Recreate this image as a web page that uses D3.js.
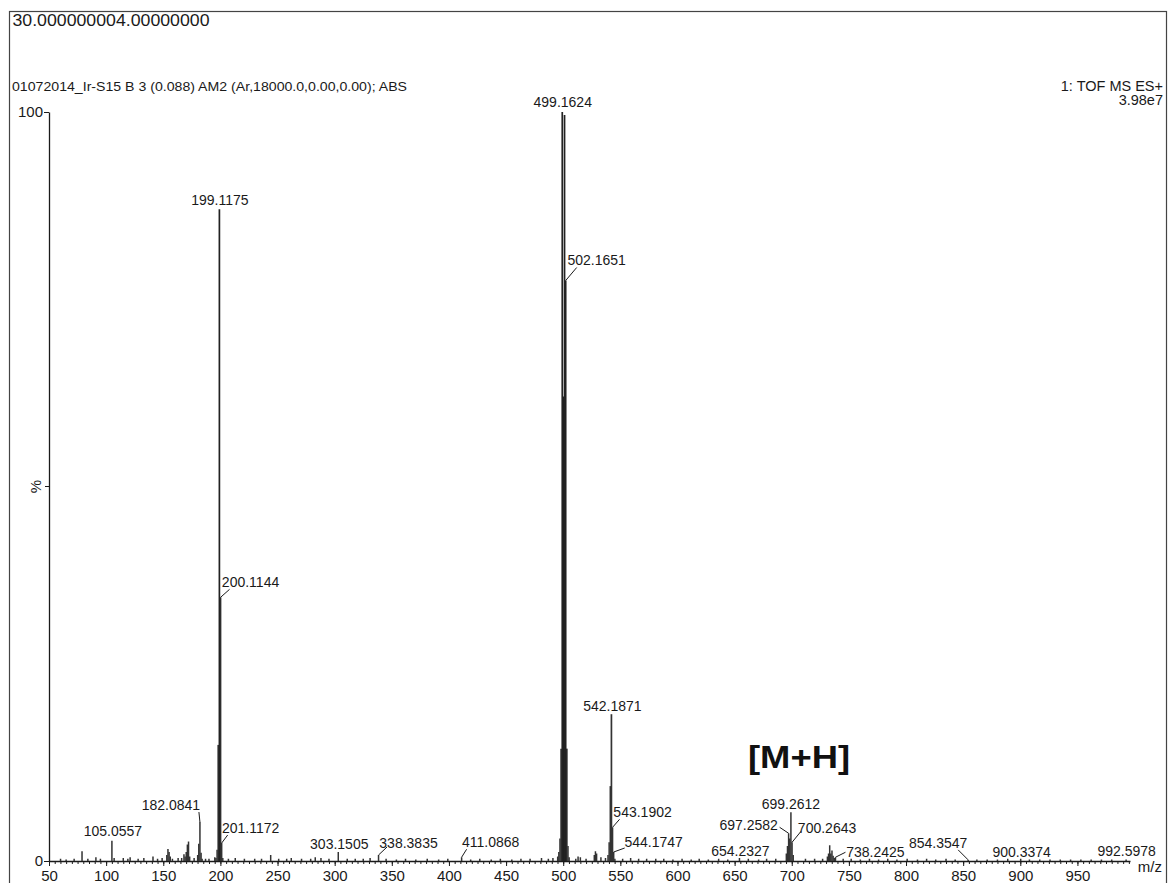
<!DOCTYPE html>
<html>
<head>
<meta charset="utf-8">
<script src="https://cdn.jsdelivr.net/npm/d3@7"></script>
<style>
  html, body { margin: 0; padding: 0; background: #fff; }
  svg { display: block; font-family: "Liberation Sans", Arial, Helvetica, sans-serif; }
</style>
</head>
<body>
<svg id="chart" width="1168" height="883"></svg>
<script>
// ---- Spectrum data -------------------------------------------------------
const headerTitle = "30.000000004.00000000";
const runInfo = "01072014_Ir-S15 B 3 (0.088) AM2 (Ar,18000.0,0.00,0.00); ABS";
const scanInfo = ["1: TOF MS ES+", "3.98e7"];
const annotation = "[M+H]";
const xAxisTitle = "m/z";
const yAxisTitle = "%";

// axis ticks
const xTickValues = [50, 100, 150, 200, 250, 300, 350, 400, 450, 500, 550, 600, 650, 700, 750, 800, 850, 900, 950];
const yTickValues = [0, 100];

// labelled centroids: m/z and relative intensity (%)
const labelledMz  = [105.0557, 182.0841, 199.1175, 200.1144, 201.1172, 303.1505, 338.3835, 411.0868,
                     499.1624, 502.1651, 542.1871, 543.1902, 544.1747, 654.2327, 697.2582, 699.2612,
                     700.2643, 738.2425, 854.3547, 900.3374, 992.5978];
const labelledPct = [2.7, 5.2, 87.0, 35.2, 2.4, 1.2, 0.8, 0.5,
                     100, 77.5, 19.6, 4.5, 1.2, 0.4, 3.7, 6.5,
                     2.5, 0.5, 0.15, 0.3, 0.2];

// unlabelled signals (m/z, %)
const otherPeaks = [
  [60.1, 0.3], [65.0, 0.2], [72.0, 0.3], [78.9, 1.3], [84.0, 0.3], [91.05, 0.5], [95.0, 0.3],
  [107.0, 0.4], [115.0, 0.4], [119.0, 0.3], [121.0, 0.5], [128.0, 0.3], [133.0, 0.4], [141.0, 0.6],
  [145.0, 0.3], [149.0, 0.4], [153.1, 0.8], [154.1, 1.6], [155.1, 1.2], [156.1, 0.6], [158.0, 0.3],
  [163.0, 0.4], [166.1, 0.4], [168.1, 0.9], [169.1, 0.6], [170.1, 1.2], [171.1, 2.2], [172.1, 2.6],
  [173.1, 0.6], [177.0, 0.4], [180.1, 0.8], [181.08, 2.3], [183.09, 1.1], [184.0, 0.3], [187.0, 0.3],
  [190.0, 0.3], [195.1, 0.5], [196.1, 0.4], [197.1, 1.5], [198.1, 15.5], [202.1, 0.4],
  [207.0, 0.3], [213.0, 0.4], [221.0, 0.3], [230.0, 0.3], [236.0, 0.3], [244.0, 0.8], [251.0, 0.3],
  [258.0, 0.3], [262.0, 0.4], [271.0, 0.3], [279.0, 0.3], [283.0, 0.5], [288.0, 0.4], [295.0, 0.3],
  [311.0, 0.3], [318.0, 0.3], [325.0, 0.3], [331.0, 0.4], [345.0, 0.3], [354.0, 0.2], [362.0, 0.3],
  [371.0, 0.2], [381.0, 0.3], [391.0, 0.2], [399.0, 0.3], [419.0, 0.2], [427.0, 0.3], [437.0, 0.2],
  [445.0, 0.3], [455.0, 0.2], [463.0, 0.3], [471.0, 0.3], [481.0, 0.4], [487.0, 0.3], [491.0, 0.4],
  [495.16, 0.6], [496.16, 1.2], [497.16, 3.0], [498.16, 15.0], [500.16, 62.0], [501.16, 99.6],
  [503.17, 15.0], [504.17, 2.0], [505.17, 0.5],
  [511.0, 0.3], [513.0, 0.6], [515.0, 0.5], [520.0, 0.3], [527.2, 0.8], [528.2, 1.3], [529.2, 1.0],
  [533.0, 0.5], [537.0, 0.4], [539.19, 0.8], [540.19, 2.5], [541.19, 10.0], [545.2, 0.3],
  [552.0, 0.3], [559.0, 0.4], [566.0, 0.3], [573.0, 0.3], [581.0, 0.3], [588.0, 0.3], [596.0, 0.2],
  [604.0, 0.3], [612.0, 0.2], [619.0, 0.3], [627.0, 0.2], [636.0, 0.3], [644.0, 0.2], [662.0, 0.3],
  [671.0, 0.2], [678.0, 0.3], [686.0, 0.3], [695.26, 1.0], [696.26, 2.0], [698.26, 3.0], [701.27, 0.8],
  [712.0, 0.3], [720.0, 0.3], [727.0, 0.3], [731.2, 0.6], [732.2, 1.0], [733.2, 2.1], [734.2, 1.0],
  [735.2, 1.4], [736.2, 0.7], [737.2, 0.4], [745.0, 0.3], [752.0, 0.3], [760.0, 0.2], [768.0, 0.3],
  [776.0, 0.2], [784.0, 0.3], [792.0, 0.2], [801.0, 0.3], [810.0, 0.2], [818.0, 0.3], [826.0, 0.2],
  [835.0, 0.3], [843.0, 0.2], [862.0, 0.2], [871.0, 0.2], [880.0, 0.2], [889.0, 0.3], [908.0, 0.2],
  [917.0, 0.2], [926.0, 0.2], [935.0, 0.2], [944.0, 0.2], [953.0, 0.2], [962.0, 0.2], [971.0, 0.2],
  [980.0, 0.2]
];

// ---- Label placement (offsets from the peak apex, px) --------------------
// [dx, dy] moves the label; optional [lx, ly] starts a leader line back to the apex
const labelPlacement = {
  "105.0557": [1, -5],
  "182.0841": [-29, -12, -1, -10],
  "199.1175": [0.5, -4],
  "200.1144": [30, -10, 9, -8],
  "201.1172": [29, -10, 6, -8],
  "303.1505": [1, -3],
  "338.3835": [30, -7, 8.5, -8],
  "411.0868": [29, -10, 5, -8],
  "499.1624": [0.5, -5],
  "502.1651": [31, -16, 11, -13],
  "542.1871": [1, -3.5],
  "543.1902": [30, -10, 7, -8],
  "544.1747": [40, -5, 11, -4],
  "654.2327": [1, -2],
  "697.2582": [-40, -3, -9, -6],
  "699.2612": [0, -3],
  "700.2643": [35, -9, 9, -11],
  "738.2425": [40, 0, 10, -5],
  "854.3547": [-30, -12, -10, -10],
  "900.3374": [1, -2],
  "992.5978": [0.5, -3.5]
};

// ---- Drawing -------------------------------------------------------------
const svg = d3.select("#chart");
const ink = "#1a1a1a";

// outer frame
svg.append("rect")
  .attr("x", 9.5).attr("y", 11.5)
  .attr("width", 1157).attr("height", 900)
  .attr("fill", "none").attr("stroke", "#444").attr("stroke-width", 1.2);

const x = d3.scaleLinear().domain([50, 996]).range([49, 1130]);
const y = d3.scaleLinear().domain([0, 100]).range([861, 112]);

// header lines
svg.append("text")
  .attr("x", 12.5).attr("y", 26)
  .attr("font-size", 16).attr("fill", ink)
  .attr("textLength", 197).attr("lengthAdjust", "spacingAndGlyphs")
  .text(headerTitle);

svg.append("text")
  .attr("x", 12).attr("y", 91)
  .attr("font-size", 13.5).attr("fill", ink)
  .attr("textLength", 395).attr("lengthAdjust", "spacingAndGlyphs")
  .text(runInfo);

svg.selectAll("text.scan")
  .data(scanInfo)
  .join("text")
  .attr("class", "scan")
  .attr("x", 1163)
  .attr("y", (d, i) => 91 + i * 14)
  .attr("text-anchor", "end")
  .attr("font-size", 14.5).attr("fill", ink)
  .text(d => d);

// x axis: minor ticks every 5, major ticks every 50
const minorAxis = d3.axisBottom(x)
  .tickValues(d3.range(50, 996, 5))
  .tickSize(3).tickSizeOuter(0).tickFormat("");
const gMinor = svg.append("g").attr("transform", `translate(0,${y(0)})`).call(minorAxis);
gMinor.select(".domain").attr("stroke", ink).attr("stroke-width", 1.3);
gMinor.selectAll(".tick line").attr("stroke", ink).attr("stroke-width", 1);

const majorAxis = d3.axisBottom(x)
  .tickValues(xTickValues)
  .tickSize(5).tickSizeOuter(0).tickPadding(4)
  .tickFormat(d3.format("d"));
const gMajor = svg.append("g").attr("transform", `translate(0,${y(0)})`).call(majorAxis);
gMajor.select(".domain").remove();
gMajor.selectAll(".tick line").attr("stroke", ink).attr("stroke-width", 1);
gMajor.selectAll(".tick text")
  .attr("font-family", "Liberation Sans, Arial, sans-serif")
  .attr("font-size", 15).attr("fill", ink);

svg.append("text")
  .attr("x", 1162).attr("y", 872)
  .attr("text-anchor", "end")
  .attr("font-size", 15).attr("fill", ink)
  .text(xAxisTitle);

// y axis
const yAxis = d3.axisLeft(y)
  .tickValues(yTickValues)
  .tickSize(5).tickSizeOuter(0).tickPadding(1)
  .tickFormat(d3.format("d"));
const gY = svg.append("g").attr("transform", `translate(${x(50)},0)`).call(yAxis);
gY.select(".domain").attr("stroke", ink).attr("stroke-width", 1.3);
gY.selectAll(".tick line").attr("stroke", ink).attr("stroke-width", 1);
gY.selectAll(".tick text")
  .attr("font-family", "Liberation Sans, Arial, sans-serif")
  .attr("font-size", 15).attr("fill", ink);

// mid-scale mark with the % title
svg.append("line")
  .attr("x1", x(50) - 4).attr("x2", x(50))
  .attr("y1", y(50)).attr("y2", y(50))
  .attr("stroke", ink);
svg.append("text")
  .attr("transform", `translate(${x(50) - 8},${y(50)}) rotate(-90)`)
  .attr("text-anchor", "middle")
  .attr("font-size", 15).attr("fill", ink)
  .text(yAxisTitle);

// spectrum sticks
const allPeaks = otherPeaks.concat(labelledMz.map((m, i) => [m, labelledPct[i]]))
  .sort((a, b) => a[1] - b[1]);

svg.append("g")
  .selectAll("line")
  .data(allPeaks)
  .join("line")
  .attr("x1", d => x(d[0])).attr("x2", d => x(d[0]))
  .attr("y1", y(0)).attr("y2", d => y(d[1]))
  .attr("stroke", d => d[1] > 50 ? "#222" : "#333")
  .attr("stroke-width", d => d[1] > 10 ? 1.7 : 1.5);

// peak labels and leader lines
const gLabels = svg.append("g");
labelledMz.forEach((m, i) => {
  const key = m.toFixed(4);
  const p = labelPlacement[key] || [0, -3];
  const px = x(m), py = y(labelledPct[i]);
  gLabels.append("text")
    .attr("x", px + p[0]).attr("y", py + p[1])
    .attr("text-anchor", "middle")
    .attr("font-size", 14).attr("fill", ink)
    .text(key);
  if (p.length > 2) {
    gLabels.append("line")
      .attr("x1", px + p[2]).attr("y1", py + p[3])
      .attr("x2", px).attr("y2", py)
      .attr("stroke", ink).attr("stroke-width", 1);
  }
});

// molecular ion annotation
svg.append("text")
  .attr("x", 748).attr("y", 768)
  .attr("font-size", 31).attr("font-weight", "bold").attr("fill", "#111")
  .attr("textLength", 102).attr("lengthAdjust", "spacingAndGlyphs")
  .text(annotation);
</script>
</body>
</html>
